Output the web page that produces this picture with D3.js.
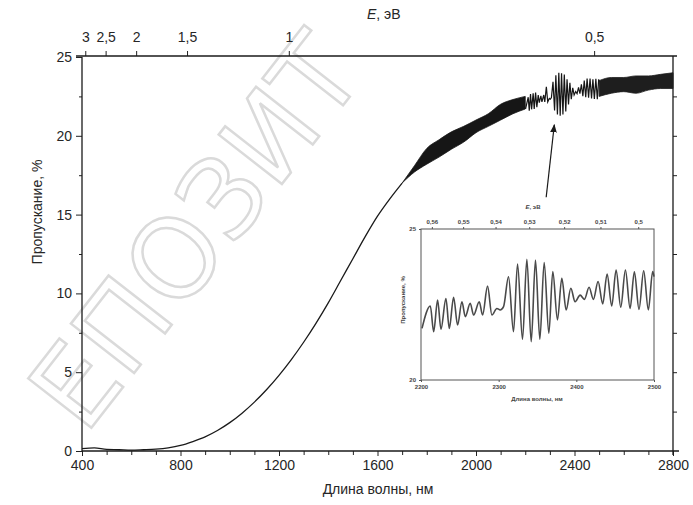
<!DOCTYPE html>
<html>
<head>
<meta charset="utf-8">
<script src="https://cdn.jsdelivr.net/npm/d3@7/dist/d3.min.js"></script>
<style>
    body { margin: 0; background: #fff; }
    svg { display: block; font-family: "Liberation Sans", Arial, sans-serif; }
    .tick text { fill: #262626; }
</style>
</head>
<body>
<svg id="chart" width="693" height="505"></svg>
<script>
// smooth part of the transmission curve (wavelength, nm / transmission, %)
var curveWl = [400, 450, 500, 550, 600, 650, 700, 750, 800, 850, 900, 950, 1000, 1050, 1100,
    1150, 1200, 1250, 1300, 1350, 1400, 1450, 1500, 1550, 1600, 1650, 1700];
var curveT = [0.15, 0.2, 0.1, 0.08, 0.05, 0.08, 0.12, 0.2, 0.35, 0.6, 0.9, 1.3, 1.8, 2.4, 3.1,
    3.9, 4.8, 5.8, 6.9, 8.1, 9.4, 10.8, 12.2, 13.6, 14.9, 16.0, 17.0];

// fringe envelope before the zoomed region
var bandWl = [1700, 1750, 1800, 1850, 1900, 1950, 2000, 2050, 2100, 2150, 2200];
var bandLo = [17.0, 17.7, 18.2, 18.65, 19.15, 19.6, 20.2, 20.6, 21.0, 21.4, 21.7];
var bandHi = [17.0, 18.1, 19.2, 19.75, 20.25, 20.6, 21.0, 21.4, 22.0, 22.3, 22.5];

// fringe envelope after the zoomed region
var tailWl = [2500, 2550, 2600, 2650, 2700, 2750, 2800];
var tailLo = [22.5, 22.7, 22.8, 22.7, 22.9, 23.0, 23.0];
var tailHi = [23.5, 23.7, 23.7, 23.8, 23.8, 23.9, 24.0];

// fringes 2200-2500 nm (maxima / minima)
var fringeWl = [2201.3, 2212.0, 2216.3, 2221.4, 2225.7, 2232.1, 2236.4, 2242.0, 2247.1, 2252.7,
    2257.0, 2263.4, 2267.7, 2275.0, 2279.3, 2285.7, 2291.3, 2297.7, 2302.0, 2306.3,
    2312.7, 2319.1, 2324.3, 2330.7, 2336.3, 2341.9, 2347.4, 2353.0, 2358.6, 2364.6,
    2369.7, 2375.7, 2381.3, 2386.9, 2392.9, 2398.4, 2404.9, 2410.4, 2416.4, 2422.0,
    2428.0, 2434.0, 2439.6, 2445.6, 2451.2, 2457.2, 2463.2, 2469.2, 2474.7, 2480.7,
    2486.7, 2492.7, 2498.3, 2500.0];
var fringeT = [21.71, 22.45, 21.60, 22.65, 21.68, 22.70, 21.71, 22.74, 21.82, 22.59,
    22.10, 22.54, 22.15, 22.59, 22.15, 23.11, 22.15, 22.37, 22.32, 22.43,
    23.42, 21.60, 23.84, 21.35, 24.00, 21.27, 23.97, 21.35, 23.89, 21.55,
    23.59, 21.99, 23.37, 22.32, 23.04, 22.59, 22.81, 22.67, 23.07, 22.67,
    23.26, 22.52, 23.51, 22.45, 23.64, 22.41, 23.64, 22.37, 23.58, 22.34,
    23.62, 22.32, 23.59, 23.42];

var wlTicks = [400, 800, 1200, 1600, 2000, 2400, 2800];
var tTicks = [0, 5, 10, 15, 20, 25];
var eTicks = [3, 2.5, 2, 1.5, 1, 0.5];
var insetWlTicks = [2200, 2300, 2400, 2500];
var insetETicks = [0.56, 0.55, 0.54, 0.53, 0.52, 0.51, 0.5];
var insetTTicks = [20, 25];

// arrow pointing from the inset to the fringe burst (nm, %)
var arrowFrom = [2285, 16.1];
var arrowTo = [2318, 20.7];

var svg = d3.select("#chart");
var commaFmt = function (d) { return String(d).replace(".", ","); };
var toWl = function (e) { return 1239.84 / e; };

// watermark of the scanned source
svg.append("text")
    .attr("transform", "translate(196,232) rotate(-52)")
    .attr("text-anchor", "middle")
    .attr("dominant-baseline", "central")
    .style("font-size", "110px")
    .style("font-family", "'DejaVu Sans', sans-serif")
    .style("fill", "none")
    .style("stroke", "#dadada")
    .style("stroke-width", 2.5)
    .text("ЕПОЗИТ");

var x = d3.scaleLinear().domain([400, 2800]).range([82, 673]);
var y = d3.scaleLinear().domain([0, 25]).range([451, 57]);

function styleAxis(g, size) {
    g.select(".domain").remove();
    g.selectAll(".tick line").attr("stroke", "#222").attr("stroke-width", 1);
    g.selectAll(".tick text").style("font-size", size + "px");
}

// minor ticks
var minorWl = d3.range(500, 2800, 100).filter(function (d) { return d % 400 !== 0; });
svg.append("g").attr("transform", "translate(0,451)")
    .call(d3.axisBottom(x).tickValues(minorWl).tickSize(4).tickFormat(""))
    .call(styleAxis, 14);
svg.append("g").attr("transform", "translate(82,0)")
    .call(d3.axisLeft(y).tickValues([2.5, 7.5, 12.5, 17.5, 22.5]).tickSize(3).tickFormat(""))
    .call(styleAxis, 14);
svg.append("g").attr("transform", "translate(673,0)")
    .call(d3.axisRight(y).tickValues(d3.range(2.5, 25, 2.5)).tickSize(4).tickFormat(""))
    .call(styleAxis, 14);

svg.append("g").attr("transform", "translate(0,451)")
    .call(d3.axisBottom(x).tickValues(wlTicks).tickSize(5).tickPadding(4).tickFormat(d3.format("d")))
    .call(styleAxis, 14);
svg.append("g").attr("transform", "translate(82,0)")
    .call(d3.axisLeft(y).tickValues(tTicks).tickSize(6).tickPadding(4))
    .call(styleAxis, 14);
svg.append("g").attr("transform", "translate(0,56)")
    .call(d3.axisTop(x).tickValues(eTicks.map(toWl)).tickSize(5).tickPadding(9)
        .tickFormat(function (d) { return commaFmt(+(1239.84 / d).toFixed(1)); }))
    .call(styleAxis, 14);

// frame
var frame = svg.append("g").attr("stroke", "#1a1a1a").attr("stroke-width", 1.3);
frame.append("line").attr("x1", x(400)).attr("x2", x(400)).attr("y1", y(25)).attr("y2", y(0));
frame.append("line").attr("x1", x(400)).attr("x2", x(2800) + 6).attr("y1", y(0)).attr("y2", y(0));
frame.append("line").attr("x1", x(400) - 6).attr("x2", x(2800) + 4).attr("y1", y(25) - 1).attr("y2", y(25) - 1);
frame.append("line").attr("x1", x(2800)).attr("x2", x(2800)).attr("y1", y(25) - 1).attr("y2", y(0) + 4);

// axis titles
svg.append("text").attr("x", 367).attr("y", 19)
    .style("font-size", "14px").style("fill", "#262626")
    .html('<tspan font-style="italic">E</tspan>, эВ');
svg.append("text").attr("x", 378).attr("y", 494).attr("text-anchor", "middle")
    .style("font-size", "14px").style("fill", "#262626")
    .text("Длина волны, нм");
svg.append("text").attr("transform", "translate(42,212) rotate(-90)").attr("text-anchor", "middle")
    .style("font-size", "14px").style("fill", "#262626")
    .text("Пропускание, %");

// main curve
var curveData = curveWl.map(function (d, i) { return [d, curveT[i]]; });
svg.append("path").datum(curveData)
    .attr("fill", "none").attr("stroke", "#1a1a1a").attr("stroke-width", 1.3)
    .attr("d", d3.line().x(function (d) { return x(d[0]); }).y(function (d) { return y(d[1]); })
        .curve(d3.curveMonotoneX));

var band = d3.area().curve(d3.curveMonotoneX)
    .x(function (d) { return x(d[0]); })
    .y0(function (d) { return y(d[1]); })
    .y1(function (d) { return y(d[2]); });
svg.append("path").datum(bandWl.map(function (d, i) { return [d, bandLo[i], bandHi[i]]; }))
    .attr("fill", "#161616").attr("stroke", "#161616").attr("stroke-width", 0.8).attr("d", band);
svg.append("path").datum(tailWl.map(function (d, i) { return [d, tailLo[i], tailHi[i]]; }))
    .attr("fill", "#1e1e1e").attr("stroke", "#1e1e1e").attr("stroke-width", 0.8).attr("d", band);

var fringeData = fringeWl.map(function (d, i) { return [d, fringeT[i]]; });
svg.append("path").datum(fringeData)
    .attr("fill", "none").attr("stroke", "#161616").attr("stroke-width", 1.2)
    .attr("d", d3.line().x(function (d) { return x(d[0]); }).y(function (d) { return y(d[1]); }));

// arrow
svg.append("defs").append("marker")
    .attr("id", "head").attr("viewBox", "0 0 10 10").attr("refX", 9).attr("refY", 5)
    .attr("markerWidth", 7).attr("markerHeight", 7).attr("orient", "auto")
    .append("path").attr("d", "M0,1 L10,5 L0,9 Z").attr("fill", "#1a1a1a");
svg.append("line")
    .attr("x1", x(arrowFrom[0])).attr("y1", y(arrowFrom[1]))
    .attr("x2", x(arrowTo[0])).attr("y2", y(arrowTo[1]))
    .attr("stroke", "#1a1a1a").attr("stroke-width", 1.2).attr("marker-end", "url(#head)");

// inset
var xi = d3.scaleLinear().domain([2200, 2500]).range([421, 654]);
var yi = d3.scaleLinear().domain([20, 25]).range([380, 229]);
var inset = svg.append("g");
inset.append("rect").attr("x", 421).attr("y", 229).attr("width", 233).attr("height", 151)
    .attr("fill", "#fff").attr("stroke", "#555").attr("stroke-width", 1);

function styleInset(g) {
    g.select(".domain").remove();
    g.selectAll(".tick line").attr("stroke", "#555");
    g.selectAll(".tick text").style("font-size", "6px").style("font-weight", "bold").style("fill", "#444");
}
inset.append("g").attr("transform", "translate(0,380)")
    .call(d3.axisBottom(xi).tickValues(insetWlTicks).tickSize(2).tickPadding(3).tickFormat(d3.format("d")))
    .call(styleInset);
inset.append("g").attr("transform", "translate(0,229)")
    .call(d3.axisTop(xi).tickValues(insetETicks.map(toWl)).tickSize(2).tickPadding(3)
        .tickFormat(function (d) { return commaFmt(+(1239.84 / d).toFixed(2)); }))
    .call(styleInset);
inset.append("g").attr("transform", "translate(421,0)")
    .call(d3.axisLeft(yi).tickValues(insetTTicks).tickSize(2).tickPadding(3).tickFormat(d3.format("d")))
    .call(styleInset);

inset.append("text").attr("x", 533).attr("y", 209).attr("text-anchor", "middle")
    .style("font-size", "6px").style("font-weight", "bold").style("fill", "#444")
    .html('<tspan font-style="italic">E</tspan>, эВ');
inset.append("text").attr("x", 537).attr("y", 401).attr("text-anchor", "middle")
    .style("font-size", "6px").style("font-weight", "bold").style("fill", "#444")
    .text("Длина волны, нм");
inset.append("text").attr("transform", "translate(405,300) rotate(-90)").attr("text-anchor", "middle")
    .style("font-size", "6px").style("font-weight", "bold").style("fill", "#444")
    .text("Пропускание, %");

inset.append("path").datum(fringeData)
    .attr("fill", "none").attr("stroke", "#4a4a4a").attr("stroke-width", 1.6)
    .attr("d", d3.line().x(function (d) { return xi(d[0]); }).y(function (d) { return yi(d[1]); })
        .curve(d3.curveMonotoneX));
</script>
</body>
</html>
